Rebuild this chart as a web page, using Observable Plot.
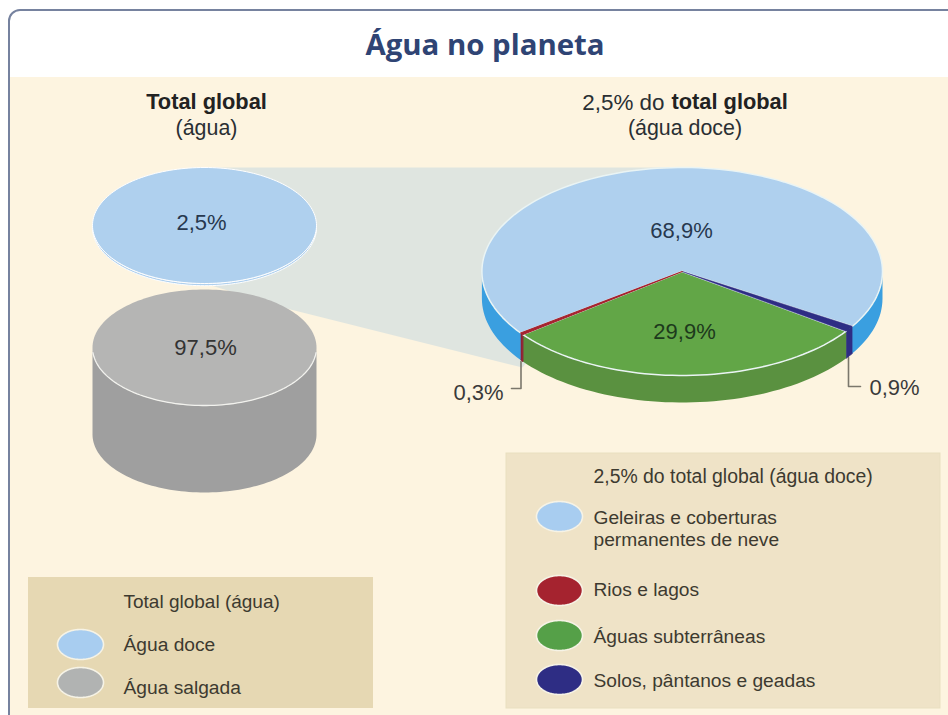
<!DOCTYPE html>
<html lang="pt">
<head>
<meta charset="utf-8">
<script src="https://cdn.jsdelivr.net/npm/d3@7"></script>
<script src="https://cdn.jsdelivr.net/npm/@observablehq/plot@0.6"></script>
<style>
html,body{margin:0;padding:0;background:#fff;overflow:hidden}
svg{display:block}
</style>
</head>
<body>
<div id="chart"></div>
<script>
// ---- data ----
const globalLabels = ["Água doce", "Água salgada"];
const globalShares = [2.5, 97.5];
const freshLabels = ["Solos, pântanos e geadas", "Águas subterrâneas", "Rios e lagos", "Geleiras e coberturas permanentes de neve"];
const freshShares = [0.9, 29.9, 0.3, 68.9];
const freshText = ["0,9%", "29,9%", "0,3%", "68,9%"];
const globalText = ["2,5%", "97,5%"];

// ---- colours ----
const freshTop = ["#2e2d84", "#62a647", "#a5232f", "#afd0ee"];
const freshWall = ["#2e2d84", "#5a9140", "#8f2233", "#3a9fe0"];
const globalTop = ["#afd0ee", "#b5b5b4"];
const globalWall = ["#afd0ee", "#9f9f9f"];
const edge = "#eaf4f4";
const ink = "#2a2f33";
const legendInk = "#3d3a30";

// ---- layout of the projected discs ----
const pie = {cx: 681.7, cy: 271, rx: 200.3, ry: 104, depth: 27, start: 121.8};
const stack = {cx: 204, rx: 112, ry: 58, tops: [225, 347], depthPerPct: 0.892};

const rad = d => d * Math.PI / 180;
const pt = (g, cy, a) => ({x: g.cx + g.rx * Math.sin(rad(a)), y: cy - g.ry * Math.cos(rad(a))});
const arc = (g, cy, a0, a1) => d3.range(0, 1.0001, 1 / Math.max(2, Math.ceil(Math.abs(a1 - a0) / 2))).map(t => pt(g, cy, a0 + (a1 - a0) * t));
const closed = pts => [...pts, pts[0]];
const poly = (pts, fill, stroke = "none", strokeWidth = 1.3) =>
  Plot.line(closed(pts), {x: "x", y: "y", fill, stroke, strokeWidth, curve: "linear", strokeLinejoin: "round"});
const disc = (cx, cy, rx, ry, fill, stroke, sw) => poly(arc({cx, rx, ry}, cy, 0, 360), fill, stroke, sw);

// pie angles come from the values
const arcs = d3.pie().sort(null).startAngle(rad(pie.start)).endAngle(rad(pie.start + 360))(freshShares)
  .map(d => ({a0: d.startAngle * 180 / Math.PI, a1: d.endAngle * 180 / Math.PI}));

const wallMarks = [];
arcs.forEach((s, i) => {
  for (const [lo, hi] of [[90, 270], [450, 630]]) {
    const a0 = Math.max(s.a0, lo), a1 = Math.min(s.a1, hi);
    if (a1 <= a0) continue;
    wallMarks.push(poly([...arc(pie, pie.cy, a0, a1), ...arc(pie, pie.cy + pie.depth, a1, a0)], freshWall[i], i === 2 || i === 0 ? freshWall[i] : "none", 1));
  }
});
const topMarks = [3, 1].map(i =>
  poly([{x: pie.cx, y: pie.cy}, ...arc(pie, pie.cy, arcs[i].a0, arcs[i].a1)], freshTop[i], edge, 1.5));
const thinMarks = [0, 2].map(i =>
  poly([{x: pie.cx, y: pie.cy}, ...arc(pie, pie.cy, arcs[i].a0, arcs[i].a1)], freshTop[i], freshTop[i], i === 2 ? 1.2 : 0.5));

// stacked cylinder
const stackMarks = [1, 0].flatMap(i => {
  const cy = stack.tops[i], d = globalShares[i] * stack.depthPerPct;
  return [
    poly([...arc(stack, cy, 90, 270), ...arc(stack, cy + d, 270, 90)], globalWall[i], i ? "none" : "#ffffff", 1),
    disc(stack.cx, cy, stack.rx, stack.ry, globalTop[i], i ? "none" : "#ffffff", 1),
    Plot.line(arc(stack, cy, 95, 265), {x: "x", y: "y", stroke: "#f2f2ee", strokeWidth: i ? 1.3 : 0, curve: "linear"})
  ];
});

const bandPts = [{x: stack.cx, y: 167}, {x: pie.cx, y: 167}, {x: 522, y: 367}, {x: 290, y: 309}, {x: stack.cx, y: 283}];

const txt = (text, x, y, o = {}) => Plot.text([text], {
  text: d => d, x: () => x, y: () => y, fontFamily: "Liberation Sans, Arial, sans-serif",
  fontSize: 19.2, fill: legendInk, textAnchor: "start", lineAnchor: "middle", ...o
});
const val = (text, x, y, fill = "#27384f") => txt(text, x, y, {fontSize: 22, fill, textAnchor: "middle"});
const key = (y, fill) => disc(559, y, 23, 15, fill, "#f6f3e6", 1.6);
const keyL = (y, fill) => disc(80, y, 23, 15, fill, "#f6f3e6", 1.6);
const leader = pts => Plot.line(pts, {x: "x", y: "y", stroke: "#7b776c", strokeWidth: 1.6, curve: "linear"});

const chart = Plot.plot({
  width: 948, height: 715, margin: 0,
  x: {domain: [0, 948], range: [0, 948], axis: null},
  y: {domain: [0, 715], range: [0, 715], axis: null},
  style: {background: "#ffffff"},
  marks: [
    Plot.rect([0], {x1: () => 9, x2: () => 990, y1: () => 10, y2: () => 760, rx: 11, fill: "#fff", stroke: "#76829f", strokeWidth: 2}),
    Plot.rect([0], {x1: () => 10, x2: () => 948, y1: () => 77, y2: () => 715, fill: "#fdf4e0"}),
    txt("Água no planeta", 484.5, 45, {fontFamily: "Open Sans, sans-serif", fontWeight: 700, fontSize: 29.4, fill: "#2f4474", textAnchor: "middle"}),

    txt("Total global", 206, 102, {fontSize: 21.8, fontWeight: 700, fill: "#222", textAnchor: "middle"}),
    txt("(água)", 206, 128, {fontSize: 21.4, fill: ink, textAnchor: "middle"}),
    txt("2,5% do", 664, 102, {fontSize: 22.4, fill: ink, textAnchor: "end"}),
    txt("total global", 671, 102, {fontSize: 21.8, fontWeight: 700, fill: "#222"}),
    txt("(água doce)", 684.5, 128, {fontSize: 21.4, fill: ink, textAnchor: "middle"}),

    poly(bandPts, "#dfe5e0"),
    ...stackMarks,
    ...wallMarks,
    ...topMarks,
    ...thinMarks,

    leader([{x: 520.5, y: 361}, {x: 520.5, y: 388}, {x: 511, y: 388}]),
    leader([{x: 848, y: 357}, {x: 848, y: 386}, {x: 860, y: 386}]),

    val(globalText[0], 201, 222),
    val(globalText[1], 205, 347, "#333"),
    val(freshText[3], 681, 230),
    val(freshText[1], 684, 331, "#1d3a1c"),
    val(freshText[2], 478, 392, "#3a3a3a"),
    val(freshText[0], 894, 387, "#3a3a3a"),

    Plot.rect([0], {x1: () => 28, x2: () => 373, y1: () => 577, y2: () => 708, fill: "#e6d8b3"}),
    txt("Total global (água)", 123, 601, {fontSize: 19}),
    keyL(644, "#a8cdf0"),
    txt(globalLabels[0], 123, 644),
    keyL(682, "#b1b3b2"),
    txt(globalLabels[1], 123, 687),

    Plot.rect([0], {x1: () => 506, x2: () => 940, y1: () => 453, y2: () => 708, fill: "#efe3c7", stroke: "#e9dfc0"}),
    txt("2,5% do total global (água doce)", 593, 476, {fontSize: 19.4}),
    key(516, "#a8cdf0"),
    txt("Geleiras e coberturas", 593, 517),
    txt("permanentes de neve", 593, 539),
    key(590, freshTop[2]),
    txt(freshLabels[2], 593, 589),
    key(635, "#55a048"),
    txt(freshLabels[1], 593, 636),
    key(679, freshTop[0]),
    txt(freshLabels[0], 593, 680)
  ]
});
document.getElementById("chart").append(chart);
</script>
</body>
</html>
